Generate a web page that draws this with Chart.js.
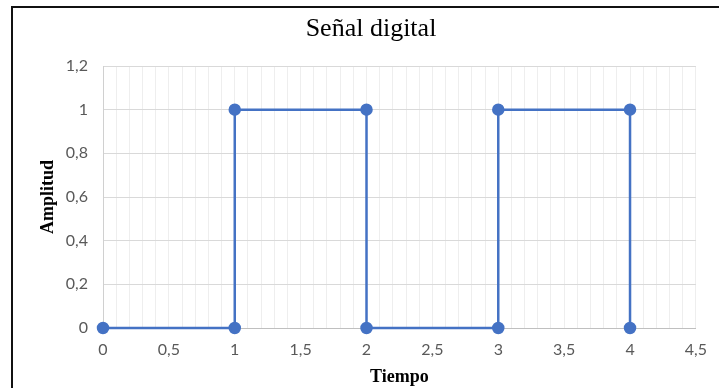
<!DOCTYPE html>
<html>
<head>
<meta charset="utf-8">
<script src="https://cdn.jsdelivr.net/npm/chart.js@4/dist/chart.umd.min.js"></script>
<style>
  html, body { margin: 0; padding: 0; background: #fff; }
  canvas { display: block; }
</style>
</head>
<body>
<canvas id="c" width="719" height="388"></canvas>
<script>
// Square wave samples: time (s) and amplitude
const tiempo   = [0, 1, 1, 2, 2, 3, 3, 4, 4];
const amplitud = [0, 0, 1, 1, 0, 0, 1, 1, 0];

const chartTitle = 'Señal digital';
const xTitle = 'Tiempo';
const yTitle = 'Amplitud';

const points = tiempo.map((t, i) => ({ x: t, y: amplitud[i] }));

const fmt = v => String(Number(v.toFixed(1))).replace('.', ',');

const serif = "'Liberation Serif', 'Times New Roman', serif";

// White background, dark frame on the top and left edges, and the chart heading
const framePlugin = {
  id: 'frame',
  beforeDraw(chart) {
    const ctx = chart.ctx;
    ctx.save();
    ctx.fillStyle = '#ffffff';
    ctx.fillRect(0, 0, chart.width, chart.height);
    ctx.fillStyle = '#111111';
    ctx.fillRect(11, 6, 2, chart.height - 6);
    ctx.fillRect(11, 6, chart.width - 11, 2);
    ctx.restore();
  },
  afterDraw(chart) {
    const ctx = chart.ctx;
    ctx.save();
    ctx.fillStyle = '#000000';
    ctx.font = '26px ' + serif;
    ctx.textAlign = 'center';
    ctx.textBaseline = 'alphabetic';
    ctx.fillText(chartTitle, 371, 36);
    ctx.restore();
  }
};

new Chart(document.getElementById('c'), {
  type: 'scatter',
  data: {
    datasets: [{
      data: points,
      showLine: true,
      tension: 0,
      borderColor: '#4472C4',
      backgroundColor: '#4472C4',
      borderWidth: 2.5,
      pointRadius: 5,
      pointHoverRadius: 5,
      clip: false
    }]
  },
  options: {
    responsive: false,
    animation: false,
    layout: { padding: { top: 66, left: 0, right: 22, bottom: 0 } },
    plugins: {
      legend: { display: false },
      tooltip: { enabled: false },
      title: { display: false }
    },
    scales: {
      x: {
        type: 'linear',
        min: 0,
        max: 4.5,
        afterFit(scale) { scale.height = 60; },
        ticks: {
          stepSize: 0.1,
          autoSkip: false,
          maxRotation: 0,
          padding: 12,
          color: '#595959',
          font: { family: 'Lato, sans-serif', size: 16 },
          callback: v => (Math.abs(v * 2 - Math.round(v * 2)) < 1e-6 ? fmt(v) : '')
        },
        grid: { color: '#eeeeee', lineWidth: 1, drawTicks: false },
        border: { color: '#bfbfbf', width: 1 },
        title: {
          display: true,
          text: xTitle,
          color: '#000000',
          font: { family: serif, size: 18, weight: 'bold', lineHeight: 1.2 },
          padding: { top: 0, bottom: 0 }
        }
      },
      y: {
        type: 'linear',
        min: 0,
        max: 1.2,
        afterFit(scale) { scale.width = 103; },
        ticks: {
          stepSize: 0.2,
          padding: 15,
          color: '#595959',
          font: { family: 'Lato, sans-serif', size: 16 },
          callback: v => fmt(v)
        },
        grid: { color: '#d9d9d9', lineWidth: 1, drawTicks: false },
        border: { color: '#d0d0d0', width: 1 },
        title: {
          display: true,
          text: yTitle,
          color: '#000000',
          font: { family: serif, size: 18, weight: 'bold', lineHeight: 1.2 },
          padding: { top: 38, bottom: 0 }
        }
      }
    }
  },
  plugins: [framePlugin]
});
</script>
</body>
</html>
